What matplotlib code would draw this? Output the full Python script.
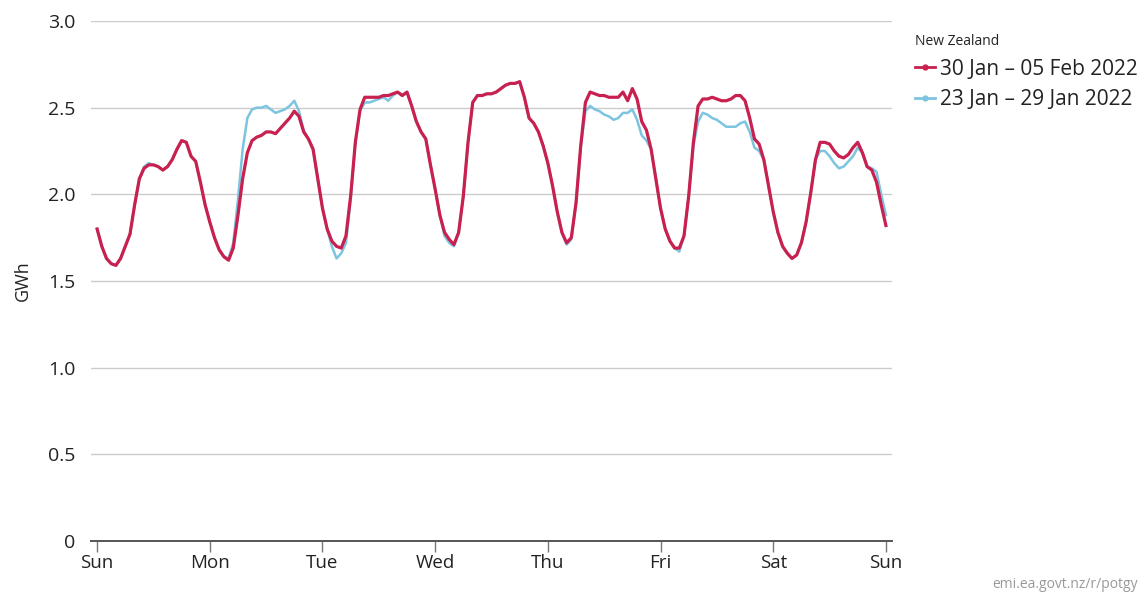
import numpy as np
import matplotlib
matplotlib.use("Agg")
import matplotlib.pyplot as plt
from matplotlib.lines import Line2D
from matplotlib.ticker import FixedLocator, FuncFormatter

plt.rcParams['font.family'] = ['Open Sans', 'DejaVu Sans']

# ---------------- data (hourly, Sun 00:00 .. next Sun 00:00) ----------------
day_labels = ["Sun", "Mon", "Tue", "Wed", "Thu", "Fri", "Sat", "Sun"]
series_names = ["30 Jan \u2013 05 Feb 2022", "23 Jan \u2013 29 Jan 2022"]

week_30jan = [
    1.80, 1.70, 1.63, 1.60, 1.59, 1.63, 1.70, 1.77, 1.94, 2.09, 2.15, 2.17,
    2.17, 2.16, 2.14, 2.16, 2.20, 2.26, 2.31, 2.30, 2.22, 2.19, 2.07, 1.94,
    1.84, 1.75, 1.68, 1.64, 1.62, 1.69, 1.88, 2.09, 2.24, 2.31, 2.33, 2.34,
    2.36, 2.36, 2.35, 2.38, 2.41, 2.44, 2.48, 2.45, 2.36, 2.32, 2.26, 2.09,
    1.92, 1.80, 1.73, 1.70, 1.69, 1.76, 1.99, 2.30, 2.49, 2.56, 2.56, 2.56,
    2.56, 2.57, 2.57, 2.58, 2.59, 2.57, 2.59, 2.51, 2.42, 2.36, 2.32, 2.17,
    2.03, 1.88, 1.78, 1.74, 1.71, 1.78, 1.99, 2.30, 2.53, 2.57, 2.57, 2.58,
    2.58, 2.59, 2.61, 2.63, 2.64, 2.64, 2.65, 2.56, 2.44, 2.41, 2.36, 2.28,
    2.18, 2.05, 1.90, 1.78, 1.72, 1.75, 1.95, 2.28, 2.53, 2.59, 2.58, 2.57,
    2.57, 2.56, 2.56, 2.56, 2.59, 2.54, 2.61, 2.55, 2.42, 2.37, 2.26, 2.09,
    1.92, 1.80, 1.73, 1.69, 1.69, 1.76, 1.99, 2.30, 2.51, 2.55, 2.55, 2.56,
    2.55, 2.54, 2.54, 2.55, 2.57, 2.57, 2.54, 2.44, 2.32, 2.29, 2.20, 2.05,
    1.90, 1.78, 1.70, 1.66, 1.63, 1.65, 1.72, 1.84, 2.01, 2.20, 2.30, 2.30,
    2.29, 2.25, 2.22, 2.21, 2.23, 2.27, 2.30, 2.24, 2.16, 2.14, 2.07, 1.94,
    1.82,
]

week_23jan = [
    1.80, 1.70, 1.63, 1.60, 1.59, 1.63, 1.70, 1.77, 1.94, 2.09, 2.16, 2.18,
    2.17, 2.16, 2.14, 2.16, 2.20, 2.26, 2.31, 2.30, 2.22, 2.19, 2.07, 1.94,
    1.84, 1.75, 1.68, 1.64, 1.63, 1.72, 1.97, 2.26, 2.44, 2.49, 2.50, 2.50,
    2.51, 2.49, 2.47, 2.48, 2.49, 2.51, 2.54, 2.48, 2.37, 2.32, 2.26, 2.09,
    1.92, 1.80, 1.70, 1.63, 1.66, 1.72, 1.97, 2.30, 2.48, 2.53, 2.53, 2.54,
    2.55, 2.56, 2.54, 2.57, 2.59, 2.57, 2.59, 2.51, 2.42, 2.36, 2.32, 2.17,
    2.03, 1.88, 1.76, 1.72, 1.70, 1.78, 1.99, 2.30, 2.53, 2.57, 2.57, 2.58,
    2.58, 2.59, 2.61, 2.63, 2.64, 2.64, 2.65, 2.56, 2.44, 2.41, 2.36, 2.28,
    2.18, 2.05, 1.90, 1.78, 1.71, 1.74, 1.95, 2.27, 2.48, 2.51, 2.49, 2.48,
    2.46, 2.45, 2.43, 2.44, 2.47, 2.47, 2.49, 2.43, 2.34, 2.31, 2.26, 2.09,
    1.92, 1.80, 1.73, 1.69, 1.67, 1.76, 1.99, 2.28, 2.42, 2.47, 2.46, 2.44,
    2.43, 2.41, 2.39, 2.39, 2.39, 2.41, 2.42, 2.36, 2.27, 2.25, 2.20, 2.05,
    1.90, 1.78, 1.70, 1.66, 1.63, 1.65, 1.72, 1.84, 2.01, 2.20, 2.25, 2.25,
    2.22, 2.18, 2.15, 2.16, 2.19, 2.22, 2.27, 2.24, 2.16, 2.15, 2.13, 2.00,
    1.88,
]

y_ticks = [0, 0.5, 1.0, 1.5, 2.0, 2.5, 3.0]

RED = "#c8204f"
BLUE = "#7cc4df"

hours = np.arange(len(week_30jan))

fig = plt.figure(figsize=(11.44, 5.94), dpi=100)
ax = fig.add_axes([91 / 1144, 53 / 594, 801 / 1144, 520 / 594])

ax.plot(hours, week_23jan, color=BLUE, lw=1.8, solid_joinstyle="round", zorder=3)
ax.plot(hours, week_30jan, color=RED, lw=2.3, solid_joinstyle="round", zorder=4)

ax.set_xlim(-1.3, 169.3)
ax.set_ylim(0, 3.0)

ax.yaxis.set_major_locator(FixedLocator(y_ticks))
ax.yaxis.set_major_formatter(FuncFormatter(lambda v, p: "0" if v == 0 else f"{v:.1f}"))
ax.set_xticks(np.arange(0, 169, 24))
ax.set_xticklabels(day_labels)

ax.grid(axis="y", color="#cccccc", lw=1.0, zorder=0)
ax.set_axisbelow(True)
for s in ["top", "right", "left"]:
    ax.spines[s].set_visible(False)
ax.spines["bottom"].set_color("#555555")
ax.spines["bottom"].set_linewidth(1.4)
ax.spines["bottom"].set_zorder(5)

ax.tick_params(axis="y", length=0, pad=11, labelsize=14, labelcolor="#222222")
ax.tick_params(axis="x", length=8, width=1, color="#777777", pad=1,
               labelsize=13.5, labelcolor="#222222")
ax.set_ylabel("GWh", fontsize=13, color="#222222", labelpad=12)

handles = [
    Line2D([], [], color=RED, lw=2, marker="o", markersize=3.5),
    Line2D([], [], color=BLUE, lw=2, marker="o", markersize=3.5),
]
leg = fig.legend(handles, series_names, loc="upper left",
                 bbox_to_anchor=(907 / 1144, 1 - 26 / 594), frameon=False,
                 fontsize=15, title="New Zealand", title_fontsize=10,
                 handlelength=0.95, handletextpad=0.25, labelspacing=0.45,
                 numpoints=1, alignment="left", borderaxespad=0)
leg.get_title().set_color("#222222")
for t in leg.get_texts():
    t.set_color("#222222")

fig.text(1138 / 1144, 1 - 584 / 594, "emi.ea.govt.nz/r/potgy", ha="right",
         va="center", fontsize=10, color="#999999")

fig.savefig("out.png", dpi=100)
